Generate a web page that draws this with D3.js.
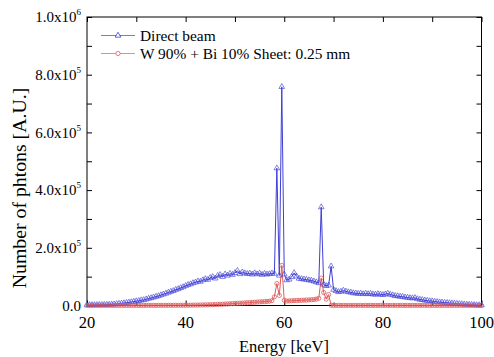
<!DOCTYPE html>
<html><head><meta charset="utf-8">
<script src="https://cdn.jsdelivr.net/npm/d3@7"></script>
<style>
html,body{margin:0;padding:0;background:#fff;}
svg{display:block;}
</style></head>
<body>
<svg id="chart" width="494" height="357"></svg>
<script>
// Energy bins (keV), 0.5 keV spacing from 20 to 100
const energyStart = 20, energyEnd = 100, energyStep = 0.5;
const seriesNames = ["Direct beam", "W 90% + Bi 10% Sheet: 0.25 mm"];
const directBeam = [
  1500,2000,1800,2200,2100,2500,2400,2900,3100,3400,
  3900,4300,5400,6600,7200,8400,9600,10800,12100,13500,
  15200,16300,18400,19200,21800,24100,26200,28400,30800,33100,
  36200,38900,41800,45100,48200,50600,54800,57300,61200,64100,
  68300,71800,74200,77900,80300,84100,82900,88200,91800,89600,
  96100,99200,94100,103200,106100,99800,108200,103900,110300,106800,
  113100,120500,109200,115300,112100,109800,111200,107900,112300,108700,
  111100,106900,110200,108100,109300,111800,110400,476000,104000,758000,
  108000,88000,90500,99000,113000,101000,93500,92000,91000,89500,
  88000,86500,84000,81000,78000,341000,73000,68000,70000,136000,
  55000,50500,47000,48500,52000,49000,46500,45500,43000,42500,
  41000,42000,40000,41500,40000,41000,39000,38000,40000,38500,
  37000,39000,41500,38000,36000,33500,32500,31000,30500,28500,
  27500,26000,25500,26500,22500,21000,19500,18000,17000,15500,
  15000,13500,12500,11500,11000,10000,9200,8600,8000,7100,
  6200,5600,5000,4200,3600,3100,2600,2100,1600,1300,
  1000
];
const sheet = [
  300,200,300,250,300,200,300,250,300,300,
  300,250,300,300,350,300,300,350,300,350,
  350,300,400,350,400,400,450,400,500,450,
  500,550,500,600,600,650,700,700,750,800,
  900,1000,1100,1200,1400,1500,1700,1900,2200,2400,
  2700,3000,3300,3700,4100,4500,5000,5400,6000,6500,
  7000,7500,8000,8500,9000,9600,10200,10700,11300,12000,
  12500,13000,13600,14200,15000,17000,30000,76000,35000,139000,
  18000,15500,16000,16500,17000,17200,17800,18000,18500,18800,
  19500,20000,20500,22000,25000,95000,45000,22000,38000,800,
  300,300,250,300,300,250,300,300,250,300,
  300,250,300,300,250,300,300,250,300,300,
  250,300,300,250,300,300,250,300,300,250,
  300,300,250,300,300,250,300,300,250,300,
  300,250,300,300,250,300,300,250,300,300,
  250,300,300,250,300,300,250,300,300,250,
  300
];
const xTickValues = [20,40,60,80,100];
const xMinorTicks = [30,50,70,90];
const yTickMantissa = ["0.0","2.0","4.0","6.0","8.0","1.0"];
const yTickExponent = ["","5","5","5","5","6"];
const yTickValues = [0,200000,400000,600000,800000,1000000];
const yMinorTicks = [100000,300000,500000,700000,900000];

const FONT = "'Liberation Serif', 'Times New Roman', Tinos, 'DejaVu Serif', serif";
const energies = d3.range(energyStart, energyEnd + energyStep/2, energyStep);
const dataA = energies.map((e,i)=>({x:e,y:directBeam[i]}));
const dataB = energies.map((e,i)=>({x:e,y:sheet[i]}));

const svg = d3.select("#chart").attr("font-family", FONT);
const L = 87, R = 481.5, T = 17, B = 305.5;
const x = d3.scaleLinear().domain([20,100]).range([L,R]);
const y = d3.scaleLinear().domain([0,1000000]).range([B,T]);

const blue = "#3f3fd6", red = "#e05a5a";

// frame
svg.append("rect").attr("x",L).attr("y",T).attr("width",R-L).attr("height",B-T)
  .attr("fill","none").attr("stroke","#000").attr("stroke-width",1);

// ticks (inward)
function tickG(axis, tr){ const g = svg.append("g").attr("transform",tr).call(axis);
  g.select(".domain").remove(); g.selectAll("line").attr("stroke","#000"); g.selectAll("text").remove(); return g; }
tickG(d3.axisBottom(x).tickValues(xTickValues).tickSize(-5), `translate(0,${B})`);
tickG(d3.axisBottom(x).tickValues(xMinorTicks).tickSize(-3), `translate(0,${B})`);
tickG(d3.axisTop(x).tickValues(xTickValues.concat(xMinorTicks)).tickSize(-5), `translate(0,${T})`);
tickG(d3.axisLeft(y).tickValues(yTickValues.concat(yMinorTicks)).tickSize(-5), `translate(${L},0)`);
tickG(d3.axisRight(y).tickValues(yTickValues.concat(yMinorTicks)).tickSize(-5), `translate(${R},0)`);

// x tick labels
svg.append("g").selectAll("text").data(xTickValues).join("text")
  .attr("font-family", FONT)
  .attr("x",d=>x(d)).attr("y",328).attr("text-anchor","middle")
  .attr("font-size","16.5px").text(d=>d);

// y tick labels
yTickValues.forEach((v,i)=>{
  const t = svg.append("text").attr("font-family", FONT).attr("x",81).attr("y",y(v)+5.2)
    .attr("text-anchor","end").attr("font-size","15px");
  t.append("tspan").text(yTickMantissa[i] + (yTickExponent[i] ? "x10" : ""));
  if (yTickExponent[i]) t.append("tspan").attr("dy",-7).attr("font-size","9px").text(yTickExponent[i]);
});

// axis titles
svg.append("text").attr("font-family", FONT).attr("x",284).attr("y",352).attr("text-anchor","middle")
  .attr("font-size","16.5px").text("Energy [keV]");
svg.append("text").attr("font-family", FONT).attr("transform","translate(26,188) rotate(-90)")
  .attr("text-anchor","middle").attr("font-size","19.8px").text("Number of phtons [A.U.]");

// lines
const line = d3.line().x(d=>x(d.x)).y(d=>y(d.y));
const plot = svg.append("g");
plot.append("path").datum(dataB).attr("d",line).attr("fill","none").attr("stroke",red).attr("stroke-width",1);
plot.append("path").datum(dataA).attr("d",line).attr("fill","none").attr("stroke",blue).attr("stroke-width",1);

const tri = d3.symbol().type(d3.symbolTriangle).size(14);
plot.append("g").selectAll("path").data(dataA).join("path")
  .attr("transform",d=>`translate(${x(d.x)},${y(d.y)})`).attr("d",tri)
  .attr("fill","none").attr("stroke",blue).attr("stroke-width",0.8).attr("stroke-opacity",0.8);
plot.append("g").selectAll("circle").data(dataB).join("circle")
  .attr("cx",d=>x(d.x)).attr("cy",d=>y(d.y)).attr("r",2.1)
  .attr("fill","none").attr("stroke",red).attr("stroke-width",0.8);

// legend
const leg = svg.append("g");
const legY = [35.5, 53.5];
const colors = [blue, red];
seriesNames.forEach((n,i)=>{
  leg.append("line").attr("x1",101).attr("x2",135).attr("y1",legY[i]).attr("y2",legY[i])
    .attr("stroke",colors[i]).attr("stroke-width",1).attr("stroke-opacity",0.7);
  if(i===0) leg.append("path").attr("transform",`translate(118,${legY[i]})`).attr("d",tri)
    .attr("fill","#fff").attr("stroke",blue).attr("stroke-width",0.8);
  else leg.append("circle").attr("cx",118).attr("cy",legY[i]).attr("r",2.1)
    .attr("fill","#fff").attr("stroke",red).attr("stroke-width",0.8);
  leg.append("text").attr("font-family", FONT).attr("x",140).attr("y",legY[i]+5).attr("font-size","15.4px").text(n);
});
</script>
</body></html>
